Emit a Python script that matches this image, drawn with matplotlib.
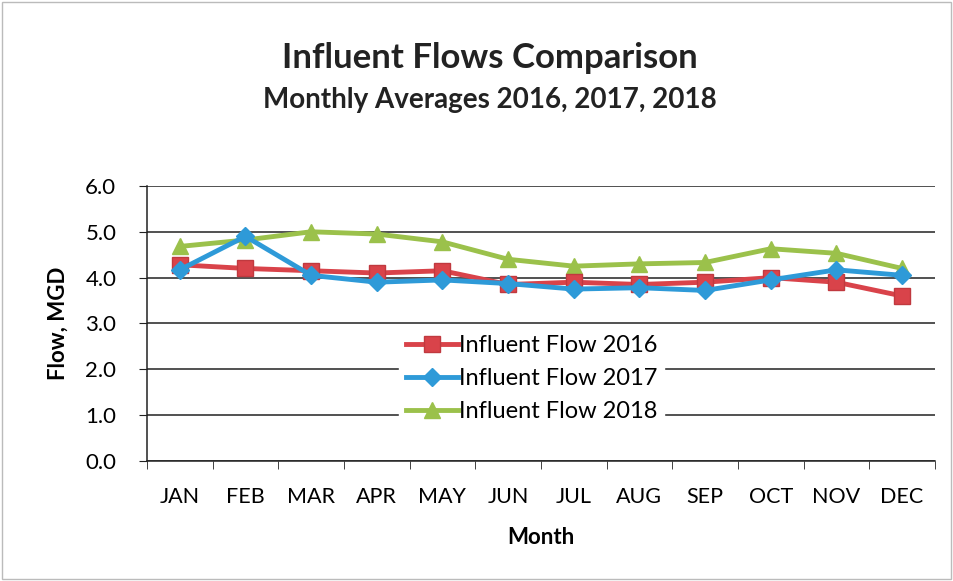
import matplotlib
matplotlib.use("Agg")
import matplotlib.pyplot as plt
import numpy as np

months = ["JAN", "FEB", "MAR", "APR", "MAY", "JUN", "JUL", "AUG", "SEP", "OCT", "NOV", "DEC"]
flow_2016 = [4.28, 4.20, 4.15, 4.10, 4.15, 3.85, 3.90, 3.85, 3.90, 4.00, 3.90, 3.60]
flow_2017 = [4.17, 4.90, 4.05, 3.90, 3.95, 3.87, 3.75, 3.78, 3.72, 3.95, 4.17, 4.05]
flow_2018 = [4.68, 4.82, 5.00, 4.95, 4.78, 4.40, 4.25, 4.30, 4.33, 4.63, 4.53, 4.20]
yticks = [0.0, 1.0, 2.0, 3.0, 4.0, 5.0, 6.0]

plt.rcParams['font.family'] = ['Lato', 'DejaVu Sans']

fig = plt.figure(figsize=(9.54, 5.81), dpi=100)
fig.patch.set_facecolor('white')
# outer border
fig.add_artist(plt.Rectangle((0.002, 0.003), 0.995, 0.994, transform=fig.transFigure,
                             fill=False, edgecolor='#bbbbbb', linewidth=1.0))

ax = fig.add_axes([0.154, 0.2065, 0.826, 0.4735])
x = np.arange(len(months))

ax.plot(x, flow_2016, color='#d9434a', linewidth=3.5, marker='s', markersize=11,
        markerfacecolor='#d9434a', markeredgecolor='#c0393f', label='Influent Flow 2016', zorder=3)
ax.plot(x, flow_2017, color='#2e9ad8', linewidth=3.5, marker='D', markersize=9,
        markerfacecolor='#2e9ad8', markeredgecolor='#2e9ad8', label='Influent Flow 2017', zorder=4)
ax.plot(x, flow_2018, color='#9bc14b', linewidth=3.5, marker='^', markersize=12,
        markerfacecolor='#9bc14b', markeredgecolor='#9bc14b', label='Influent Flow 2018', zorder=2)

ax.set_xlim(-0.5, len(months) - 0.5)
ax.set_ylim(0, 6)
ax.set_yticks(yticks)
ax.set_yticklabels([f"{v:.1f}" for v in yticks], fontsize=16)
ax.yaxis.grid(True, color='#222222', linewidth=1.1)
ax.set_axisbelow(True)

ax.set_xticks(x)
ax.set_xticklabels(months, fontsize=15.5)
ax.set_xticks(np.arange(-0.5, len(months), 1.0), minor=True)
ax.tick_params(axis='x', which='major', length=0, pad=19)
ax.tick_params(axis='x', which='minor', length=6, direction='out', color='#222222')
ax.tick_params(axis='y', length=6, direction='out', color='#222222', pad=16)

for s in ['top', 'right']:
    ax.spines[s].set_visible(False)
ax.spines['left'].set_color('#222222')
ax.spines['bottom'].set_color('#222222')
ax.spines['left'].set_linewidth(1.1)
ax.spines['bottom'].set_linewidth(1.1)

ax.set_xlabel("Month", fontsize=16, fontweight='bold', labelpad=14)
ax.set_ylabel("Flow, MGD", fontsize=16, fontweight='bold', labelpad=12)

leg = ax.legend(loc='center', bbox_to_anchor=(0.488, 0.30), frameon=True, fontsize=17,
                handlelength=2.2, handletextpad=0.05, borderpad=0.3, labelspacing=0.5)
leg.get_frame().set_edgecolor('white')
leg.get_frame().set_facecolor('white')
leg.get_frame().set_alpha(1.0)

fig.text(0.513, 0.9, "Influent Flows Comparison", ha='center', va='center',
         fontsize=25, fontweight='bold', color='#222222')
fig.text(0.513, 0.828, "Monthly Averages 2016, 2017, 2018", ha='center', va='center',
         fontsize=20, fontweight='bold', color='#222222')

fig.savefig("out.png", dpi=100)
